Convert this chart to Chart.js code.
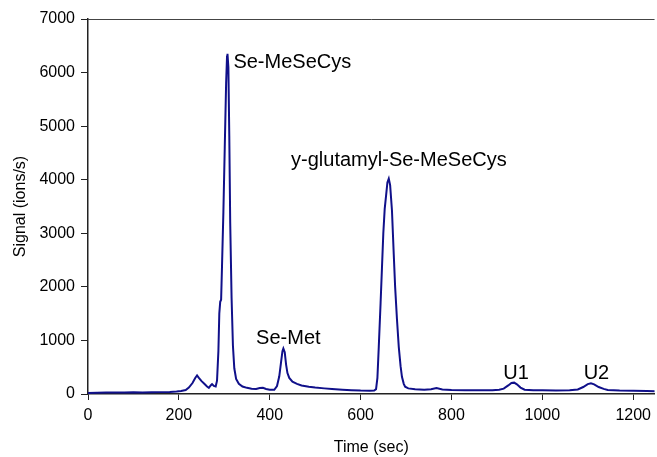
<!DOCTYPE html>
<html>
<head>
<meta charset="utf-8">
<script src="https://cdn.jsdelivr.net/npm/chart.js@4/dist/chart.umd.min.js"></script>
<style>
    html, body { margin: 0; padding: 0; background: #fff; overflow: hidden; }
    #wrap { width: 657px; height: 457px; }
</style>
</head>
<body>
<div id="wrap"><canvas id="chromatogram" width="657" height="457"></canvas></div>
<script>
// retention time (sec) and signal (ions/s)
const times = [0, 20, 40, 60, 80, 100, 120, 140, 160, 180, 195, 205, 215, 222, 230, 236, 240, 244, 250, 256,
    262, 266, 270, 273, 277, 281, 284, 287, 289, 291, 293, 295, 298, 301, 304, 306, 307, 309, 311, 313,
    316, 319, 322, 326, 332, 340, 350, 360, 370, 378, 385, 392, 400, 410, 416, 421, 425, 428, 430, 433,
    436, 439, 443, 450, 460, 470, 486, 500, 520, 537, 560, 580, 600, 620, 630, 634, 637, 640, 644, 647,
    650, 653, 656, 659, 662, 665, 669, 673, 676, 680, 684, 688, 691, 695, 698, 705, 720, 740, 755, 767,
    780, 800, 830, 860, 890, 905, 915, 925, 932, 938, 944, 952, 961, 980, 1000, 1030, 1060, 1078, 1090, 1100,
    1107, 1114, 1124, 1135, 1144, 1170, 1200, 1230, 1250];
const signal = [20, 25, 28, 30, 28, 32, 30, 32, 35, 38, 45, 55, 75, 120, 205, 300, 345, 300, 240, 190,
    140, 115, 160, 185, 150, 140, 250, 800, 1500, 1720, 1760, 2400, 3400, 4600, 5800, 6300, 6350, 6100, 4800, 3200,
    1800, 900, 480, 280, 190, 140, 115, 100, 95, 110, 115, 95, 80, 80, 150, 330, 600, 800, 850, 780,
    550, 390, 300, 230, 190, 160, 136, 120, 105, 93, 80, 72, 65, 62, 65, 90, 300, 880, 1700, 2350,
    3000, 3450, 3700, 3950, 4020, 3900, 3430, 2600, 2000, 1400, 880, 520, 320, 190, 136, 105, 88, 80, 90, 110,
    85, 75, 70, 68, 72, 80, 100, 160, 205, 212, 180, 120, 80, 70, 68, 65, 70, 85, 130, 185,
    200, 180, 130, 95, 75, 65, 60, 55, 52];

const xTicks = [0, 200, 400, 600, 800, 1000, 1200];
const yTicks = [0, 1000, 2000, 3000, 4000, 5000, 6000, 7000];

// peak names and where they sit (data units)
const peakNames = ["Se-MeSeCys", "y-glutamyl-Se-MeSeCys", "Se-Met", "U1", "U2"];
const peakNameT = [320, 447, 370, 914, 1091];
const peakNameV = [6197, 4368, 1045, 392, 392];

const font = "'Liberation Sans', Arial, sans-serif";

const points = times.map((t, i) => ({ x: t, y: signal[i] }));

const peakLabels = {
    id: 'peakLabels',
    afterDatasetsDraw(chart) {
        const ctx = chart.ctx;
        const xs = chart.scales.x, ys = chart.scales.y;
        ctx.save();
        ctx.fillStyle = '#000';
        ctx.font = '20px ' + font;
        ctx.textAlign = 'left';
        ctx.textBaseline = 'middle';
        for (let i = 0; i < peakNames.length; i++) {
            ctx.fillText(peakNames[i], xs.getPixelForValue(peakNameT[i]), ys.getPixelForValue(peakNameV[i]));
        }
        // top frame line
        const a = chart.chartArea;
        ctx.strokeStyle = '#444';
        ctx.lineWidth = 1;
        ctx.beginPath();
        ctx.moveTo(a.left, a.top + 0.5);
        ctx.lineTo(a.right, a.top + 0.5);
        ctx.stroke();
        ctx.restore();
    }
};

new Chart(document.getElementById('chromatogram'), {
    type: 'line',
    data: {
        datasets: [{
            data: points,
            borderColor: '#10108a',
            borderWidth: 2,
            pointRadius: 0,
            tension: 0,
            fill: false
        }]
    },
    options: {
        responsive: false,
        animation: false,
        layout: { padding: { top: 19, right: 0, left: 0, bottom: 0 } },
        plugins: { legend: { display: false }, tooltip: { enabled: false } },
        scales: {
            x: {
                type: 'linear',
                min: 0,
                max: 1247,
                afterFit(scale) { scale.height = 63; },
                afterBuildTicks(scale) { scale.ticks = xTicks.map(v => ({ value: v })); },
                ticks: { color: '#000', font: { family: font, size: 16 }, padding: 6, maxRotation: 0, callback: v => String(v) },
                grid: { drawOnChartArea: false, drawTicks: true, tickLength: 6, color: '#222' },
                border: { display: true, color: '#222', width: 1.5 },
                title: { display: true, text: 'Time (sec)', color: '#000', font: { family: font, size: 16 }, padding: { top: 0, bottom: 0 } }
            },
            y: {
                min: 0,
                max: 7000,
                afterFit(scale) { scale.width = 88; },
                afterBuildTicks(scale) { scale.ticks = yTicks.map(v => ({ value: v })); },
                ticks: { color: '#000', font: { family: font, size: 16 }, padding: 6, callback: v => String(v) },
                grid: { drawOnChartArea: false, drawTicks: true, tickLength: 7, color: '#222' },
                border: { display: true, color: '#222', width: 1.5 },
                title: { display: true, text: 'Signal (ions/s)', color: '#000', font: { family: font, size: 16 }, padding: { top: 11, bottom: 0 } }
            }
        }
    },
    plugins: [peakLabels]
});
</script>
</body>
</html>
